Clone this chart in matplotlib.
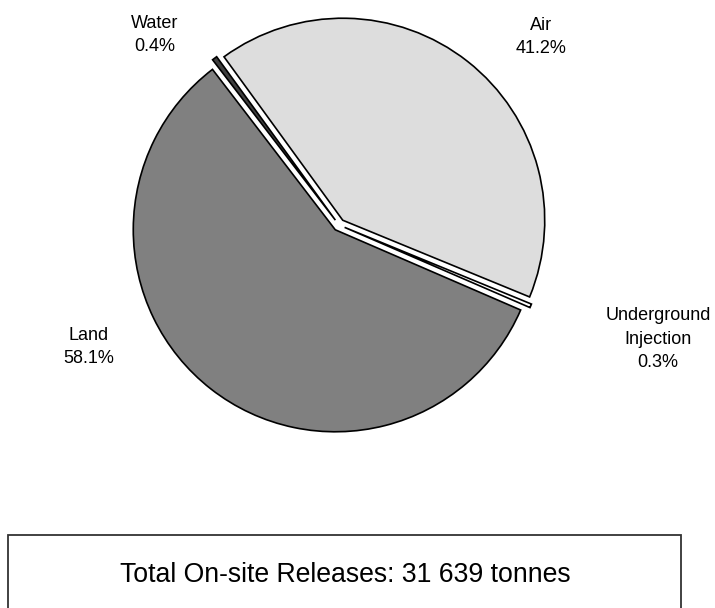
import matplotlib
matplotlib.use("Agg")
import matplotlib.pyplot as plt
from matplotlib.patches import Rectangle

plt.rcParams['font.family'] = ['Liberation Sans', 'DejaVu Sans']

# data
names = ["Underground\nInjection", "Air", "Water", "Land"]
shares = [0.3, 41.2, 0.4, 58.1]
colours = ["#ffffff", "#dddddd", "#404040", "#808080"]
explode = [0.03, 0.03, 0.03, 0.03]   # fraction of radius
total_tonnes = "31 639"

# label spots, in pixels from the top-left of the picture
label_xy = [(658, 339), (541, 37), (155, 35), (89, 347)]

W, H = 715, 608
R = 202
fig = plt.figure(figsize=(W / 100, H / 100), dpi=100)
ax = fig.add_axes([0, 0, 1, 1])

# pie explode is in data units, so scale by the radius
ax.pie(shares, colors=colours, explode=[e * R for e in explode],
       startangle=-23.4, center=(339, H - 225), radius=R, frame=True,
       wedgeprops=dict(edgecolor='black', linewidth=1.2))
ax.set_xlim(0, W)
ax.set_ylim(0, H)
ax.set_aspect('equal')
ax.axis('off')

for nm, v, (px, py) in zip(names, shares, label_xy):
    ax.text(px, H - py, f"{nm}\n{v}%", ha='center', va='center',
            fontsize=13, linespacing=1.5)

# total box at the bottom
ax.add_patch(Rectangle((8, -30), 673, H - 535 + 30, fill=False,
                       edgecolor='#333333', linewidth=1.3))
ax.text(345, H - 582, f"Total On-site Releases: {total_tonnes} tonnes",
        ha='center', va='baseline', fontsize=19.2)

fig.savefig("out.png", dpi=100)
